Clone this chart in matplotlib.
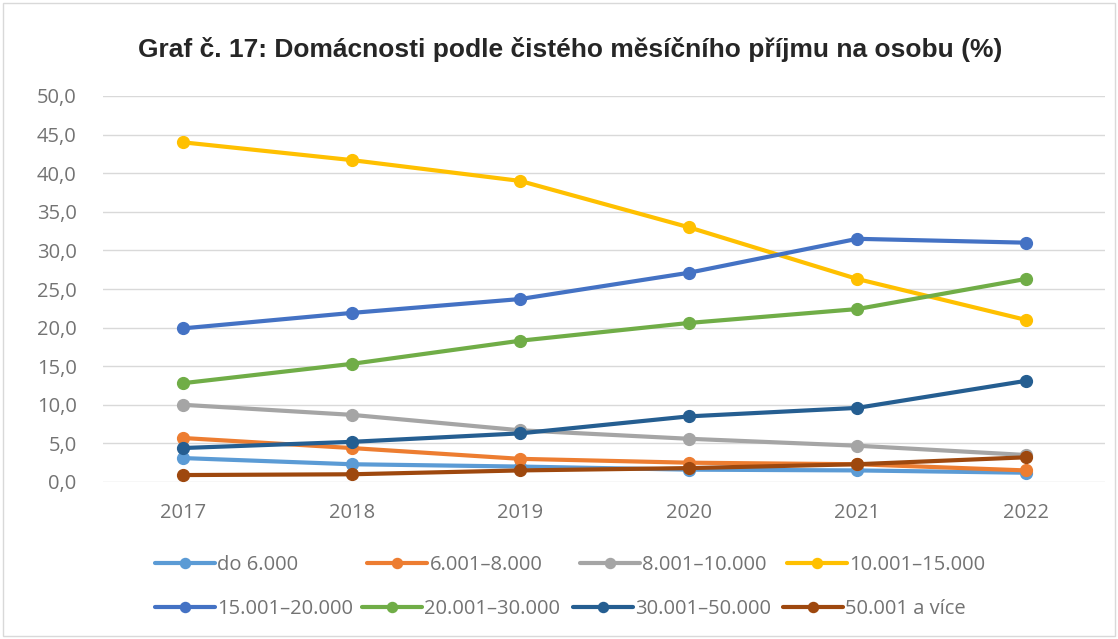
import matplotlib
matplotlib.use("Agg")
import matplotlib.pyplot as plt
from matplotlib.patches import Rectangle
from matplotlib.ticker import FuncFormatter

years = ["2017", "2018", "2019", "2020", "2021", "2022"]
labels = ["do 6.000", "6.001–8.000", "8.001–10.000", "10.001–15.000",
          "15.001–20.000", "20.001–30.000", "30.001–50.000", "50.001 a více"]
do_6000 = [3.1, 2.3, 2.0, 1.6, 1.5, 1.2]
s_6_8 = [5.7, 4.4, 3.0, 2.5, 2.3, 1.5]
s_8_10 = [10.0, 8.7, 6.7, 5.6, 4.7, 3.5]
s_10_15 = [44.0, 41.7, 39.0, 33.0, 26.3, 21.0]
s_15_20 = [19.9, 21.9, 23.7, 27.1, 31.5, 31.0]
s_20_30 = [12.8, 15.3, 18.3, 20.6, 22.4, 26.3]
s_30_50 = [4.4, 5.2, 6.3, 8.5, 9.6, 13.1]
s_50 = [0.9, 1.0, 1.5, 1.8, 2.3, 3.2]
series = [do_6000, s_6_8, s_8_10, s_10_15, s_15_20, s_20_30, s_30_50, s_50]
colors = ["#5B9BD5", "#ED7D31", "#A5A5A5", "#FFC000",
          "#4472C4", "#70AD47", "#255E91", "#9E480E"]

W, H = 1118, 639
fig = plt.figure(figsize=(W / 100, H / 100), dpi=100)
fig.patches.append(Rectangle((3 / W, 3 / H), 1 - 6 / W, 1 - 6 / H, transform=fig.transFigure,
                             fill=False, edgecolor="#D9D9D9", lw=1))
ax = fig.add_axes([103 / W, 1 - 482 / H, (1105 - 103) / W, (482 - 96) / H])

x = list(range(len(years)))
handles = []
for vals, lab, c in zip(series, labels, colors):
    h, = ax.plot(x, vals, color=c, lw=3, marker="o", ms=8.5, label=lab,
                 solid_capstyle="round", zorder=3)
    handles.append(h)

ax.set_xlim(-0.475, 5.47)
ax.set_ylim(0, 50)
ax.set_yticks([0, 5, 10, 15, 20, 25, 30, 35, 40, 45, 50])
ax.yaxis.set_major_formatter(FuncFormatter(lambda v, p: f"{v:.1f}".replace(".", ",")))
ax.set_xticks(x)
ax.set_xticklabels(years)
ax.grid(axis="y", color="#D9D9D9", lw=1, zorder=0)
for s in ax.spines.values():
    s.set_visible(False)
ax.tick_params(length=0, labelsize=14.5, labelcolor="#737373")
ax.tick_params(axis="y", pad=19)
ax.tick_params(axis="x", pad=15)
for t in ax.get_xticklabels() + ax.get_yticklabels():
    t.set_family("Open Sans")

fig.text(570 / W, 1 - 50 / H, "Graf č. 17: Domácnosti podle čistého měsíčního příjmu na osobu (%)",
         ha="center", va="center", fontsize=19, fontweight="bold",
         family="Liberation Sans", color="#262626")

starts = [(155, 565), (367, 565), (580, 565), (787, 565),
          (155, 609), (362, 609), (573, 609), (783, 609)]
for h, lab, (sx, sy) in zip(handles, labels, starts):
    leg = fig.legend([h], [lab], loc="center left", bbox_to_anchor=(sx / W, 1 - sy / H),
                     frameon=False, handlelength=3.0, handletextpad=0.1, borderpad=0,
                     borderaxespad=0, markerscale=0.85,
                     prop={"family": "Open Sans", "size": 14.5}, labelcolor="#737373")

fig.savefig("out.png", dpi=100)
